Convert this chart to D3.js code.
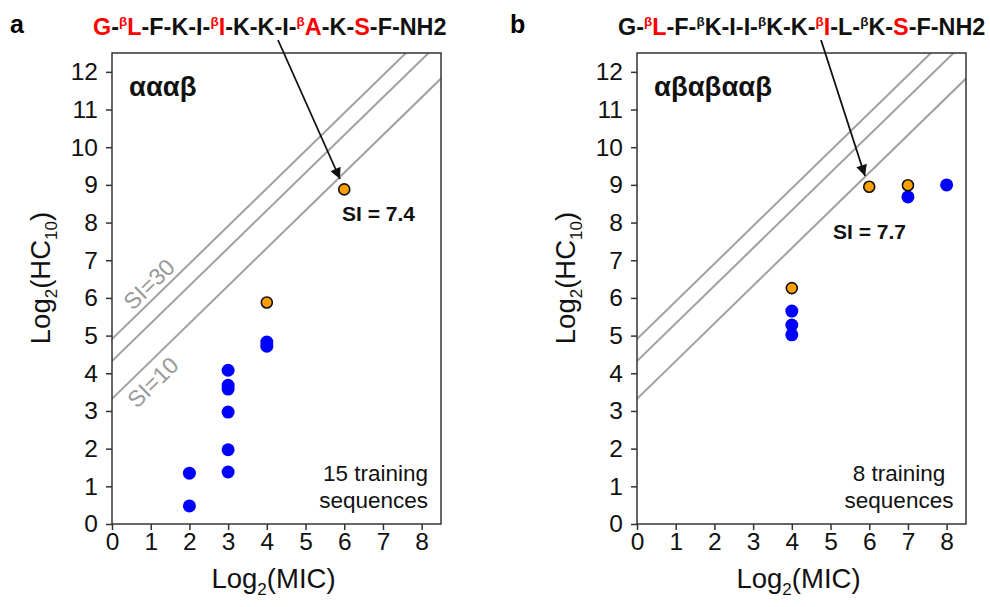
<!DOCTYPE html>
<html><head><meta charset="utf-8">
<script src="https://cdn.jsdelivr.net/npm/d3@7"></script>
<style>body{margin:0;background:#fff}svg{display:block}text{font-family:"Liberation Sans",Arial,sans-serif}</style>
</head><body><svg id="c" width="990" height="607"></svg>
<script>
// ---- data ----
const xTicks = [0,1,2,3,4,5,6,7,8];
const yTicks = [0,1,2,3,4,5,6,7,8,9,10,11,12];
const siLevels = [10, 20, 30];

const aTrainMIC = [2, 2, 3, 3, 3, 3, 3, 3, 4, 4];
const aTrainHC  = [1.35, 0.48, 4.08, 3.68, 3.58, 2.97, 1.97, 1.38, 4.83, 4.72];
const aNewMIC = [4, 6];
const aNewHC  = [5.88, 8.88];

const bTrainMIC = [4, 4, 4, 7, 8];
const bTrainHC  = [5.65, 5.28, 5.02, 8.68, 9.0];
const bNewMIC = [4, 6, 7];
const bNewHC  = [6.26, 8.95, 8.99];

const aSeq = [["G","#f00",0],["-",null,0],["β","#f00",1],["L","#f00",0],["-F-K-I-",null,0],["β","#f00",1],["I","#f00",0],["-K-K-I-",null,0],["β","#f00",1],["A","#f00",0],["-K-",null,0],["S","#f00",0],["-F-NH2",null,0]];
const bSeq = [["G-",null,0],["β","#f00",1],["L","#f00",0],["-F-",null,0],["β",null,1],["K-I-I-",null,0],["β",null,1],["K-K-",null,0],["β","#f00",1],["I","#f00",0],["-L-",null,0],["β",null,1],["K-",null,0],["S","#f00",0],["-F-NH2",null,0]];

const svg = d3.select("#c");
svg.append("defs").append("marker").attr("id","ah").attr("viewBox","0 0 10 10").attr("refX",10).attr("refY",5)
  .attr("markerWidth",13).attr("markerHeight",11).attr("markerUnits","userSpaceOnUse").attr("orient","auto")
  .append("path").attr("d","M0,0 L10,5 L0,10 z").attr("fill","#111");

function panel(o){
  const x = d3.scaleLinear().domain([0,8.5]).range([o.left, o.left+329]);
  const y = d3.scaleLinear().domain([0,12.5]).range([524, 53]);
  const g = svg.append("g");
  const clipId = "clip"+o.id;
  svg.append("clipPath").attr("id",clipId).append("rect")
    .attr("x",x(0)).attr("y",y(12.5)).attr("width",x(8.5)-x(0)).attr("height",y(0)-y(12.5));
  // SI lines
  g.append("g").attr("clip-path",`url(#${clipId})`).selectAll("line").data(siLevels).join("line")
    .attr("x1",x(0)).attr("y1",d=>y(Math.log2(d))).attr("x2",x(8.5)).attr("y2",d=>y(8.5+Math.log2(d)))
    .attr("stroke","#a0a0a0").attr("stroke-width",2);
  // frame
  g.append("rect").attr("x",x(0)).attr("y",y(12.5)).attr("width",x(8.5)-x(0)).attr("height",y(0)-y(12.5))
    .attr("fill","none").attr("stroke","#333").attr("stroke-width",1.5);
  // axes
  const xa = g.append("g").attr("transform",`translate(0,${y(0)})`)
    .call(d3.axisBottom(x).tickValues(xTicks).tickSize(6).tickPadding(3).tickSizeOuter(0));
  const ya = g.append("g").attr("transform",`translate(${x(0)},0)`)
    .call(d3.axisLeft(y).tickValues(yTicks).tickSize(6).tickPadding(8).tickSizeOuter(0));
  [xa,ya].forEach(a=>{a.select(".domain").remove();a.selectAll("line").attr("stroke","#333").attr("stroke-width",1.5);
    a.selectAll("text").attr("font-size",24.5).attr("fill","#111").attr("font-family","Liberation Sans, Arial");});
  // axis titles
  const xt = g.append("text").attr("x",(x(0)+x(8.5))/2-3).attr("y",588).attr("text-anchor","middle").attr("font-size",27.5).attr("fill","#111");
  xt.append("tspan").text("Log");
  xt.append("tspan").text("2").attr("font-size",17).attr("dy",7);
  xt.append("tspan").text("(MIC)").attr("dy",-7);
  const yt = g.append("text").attr("transform",`translate(${o.left-62},278) rotate(-90)`).attr("text-anchor","middle").attr("font-size",27.5).attr("fill","#111");
  yt.append("tspan").text("Log");
  yt.append("tspan").text("2").attr("font-size",17).attr("dy",7);
  yt.append("tspan").text("(HC").attr("dy",-7);
  yt.append("tspan").text("10").attr("font-size",17).attr("dy",7);
  yt.append("tspan").text(")").attr("dy",-7);
  // points
  g.selectAll("circle.tr").data(o.trX.map((v,i)=>[v,o.trY[i]])).join("circle").attr("class","tr")
    .attr("cx",d=>x(d[0])).attr("cy",d=>y(d[1])).attr("r",6.5).attr("fill","#0000ff");
  g.selectAll("circle.nw").data(o.nwX.map((v,i)=>[v,o.nwY[i]])).join("circle").attr("class","nw")
    .attr("cx",d=>x(d[0])).attr("cy",d=>y(d[1])).attr("r",5.5).attr("fill","#ffa000").attr("stroke","#111").attr("stroke-width",1.6);
  // panel label
  g.append("text").attr("x",o.labX).attr("y",33).attr("font-size",25).attr("font-weight","bold").text(o.label);
  // sequence
  const st = g.append("text").attr("x",o.seqX).attr("y",35).attr("font-size",23.4).attr("font-weight","bold").attr("fill","#111");
  let prevSup = false;
  o.seq.forEach(s=>{
    const t = st.append("tspan").text(s[0]).attr("fill",s[1]||"#111");
    if(s[2]){t.attr("font-size",13.5).attr("dy",-9);prevSup=true;}
    else if(prevSup){t.attr("dy",9);prevSup=false;}
  });
  // motif label
  g.append("text").attr("x",x(0)+17).attr("y",96).attr("font-size",27.5).attr("font-weight","bold").attr("fill","#111").text(o.motif);
  // SI annotation
  g.append("text").attr("x",o.siX).attr("y",o.siY).attr("font-size",21).attr("font-weight","bold").attr("fill","#111").text(o.siText);
  // training text
  const tt = g.append("text").attr("text-anchor",o.trainAnchor).attr("font-size",22.5).attr("fill","#111");
  tt.append("tspan").attr("x",o.trainX).attr("y",481).text(o.trainN+" training");
  tt.append("tspan").attr("x",o.trainX).attr("y",508).text("sequences");
  // arrow
  const [ax1,ay1,ax2,ay2] = o.arrow;
  g.append("line").attr("x1",ax1).attr("y1",ay1).attr("x2",ax2).attr("y2",ay2).attr("stroke","#111").attr("stroke-width",1.8).attr("marker-end","url(#ah)");
  return {x,y,g};
}

const A = panel({id:"a",left:112,label:"a",labX:10,seq:aSeq,seqX:93,motif:"αααβ",trX:aTrainMIC,trY:aTrainHC,nwX:aNewMIC,nwY:aNewHC,
  siText:"SI = 7.4",siX:342,siY:221,trainN:15,trainX:428,trainAnchor:"end",arrow:[278,40,340,179]});
const B = panel({id:"b",left:637,label:"b",labX:510,seq:bSeq,seqX:618,motif:"αβαβααβ",trX:bTrainMIC,trY:bTrainHC,nwX:bNewMIC,nwY:bNewHC,
  siText:"SI = 7.7",siX:833,siY:239,trainN:8,trainX:899,trainAnchor:"middle",arrow:[821,40,865,176]});

// SI labels (panel a)
const siAng = -Math.atan((A.y(0)-A.y(1))/(A.x(1)-A.x(0)))*180/Math.PI;
A.g.append("text").attr("transform",`translate(${A.x(1.10)},${A.y(6.21)}) rotate(${siAng})`).attr("text-anchor","middle")
  .attr("font-size",23).attr("fill","#999").text("SI=30");
A.g.append("text").attr("transform",`translate(${A.x(1.20)},${A.y(3.61)}) rotate(${siAng})`).attr("text-anchor","middle")
  .attr("font-size",23).attr("fill","#999").text("SI=10");
</script></body></html>
